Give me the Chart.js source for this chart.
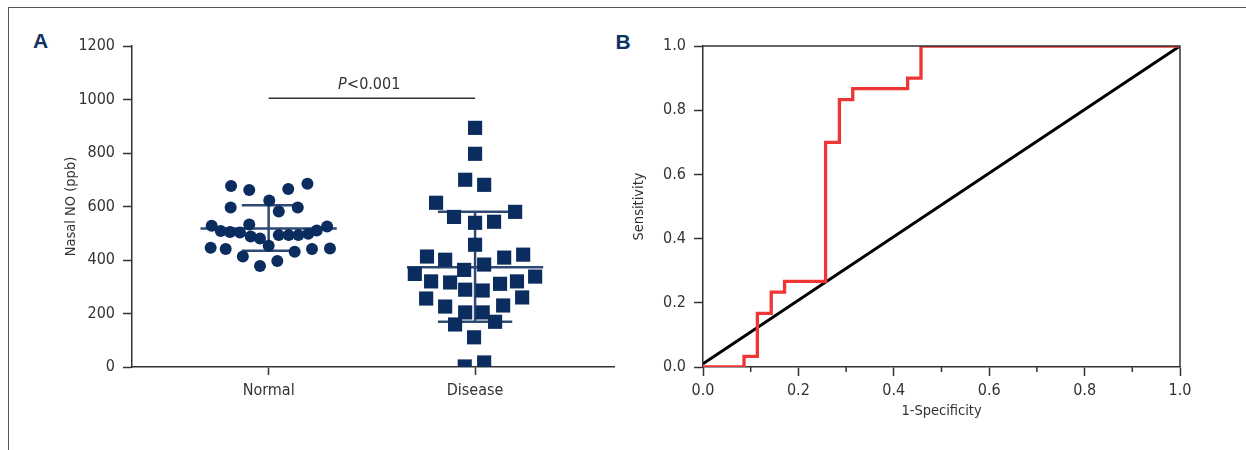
<!DOCTYPE html>
<html><head><meta charset="utf-8">
<script src="https://cdn.jsdelivr.net/npm/chart.js@4.4.1/dist/chart.umd.min.js"></script>
<style>
html,body{margin:0;padding:0;background:#fff;width:1246px;height:450px;overflow:hidden;}
#frame{position:absolute;left:8px;top:7px;width:1238px;height:443px;border-top:1.5px solid #555;border-left:1.5px solid #555;box-sizing:border-box;}
#cA{position:absolute;left:0;top:0;}
#cB{position:absolute;left:620px;top:0;}
.panel{position:absolute;font-family:'Liberation Sans','DejaVu Sans',sans-serif;font-weight:bold;font-size:21px;line-height:21px;color:#0e3364;}
</style></head>
<body>
<div id="frame"></div>
<div class="panel" style="left:33px;top:29.5px">A</div>
<div class="panel" style="left:615.5px;top:30.5px">B</div>
<canvas id="cA" width="625" height="450"></canvas>
<canvas id="cB" width="626" height="450"></canvas>
<script>
// ---------- data: panel A ----------
const categories = ['Normal', 'Disease'];
const categoryPositions = [1, 2];
const normalValues = [677,662,665,685,596,622,581,596,528,508,505,503,533,488,480,453,493,493,493,498,510,525,446,441,413,431,441,443,378,396];
const normalJitter = [-0.182,-0.094,0.095,0.188,-0.184,0.003,0.049,0.141,-0.276,-0.232,-0.187,-0.139,-0.094,-0.087,-0.042,0.0,0.049,0.097,0.144,0.192,0.233,0.283,-0.281,-0.208,-0.125,0.126,0.210,0.297,-0.042,0.042];
const diseaseValues = [894,797,700,681,614,561,539,543,580,457,413,401,363,383,409,420,348,320,316,289,286,311,320,338,256,226,204,204,230,260,159,169,111,2,17];
const diseaseJitter = [0,0,-0.048,0.044,-0.189,-0.102,0,0.092,0.194,0,-0.233,-0.145,-0.053,0.044,0.141,0.233,-0.292,-0.213,-0.121,-0.048,0.037,0.121,0.203,0.291,-0.237,-0.145,-0.048,0.037,0.136,0.228,-0.097,0.097,-0.005,-0.05,0.044];
const groupMeans = [518, 373];
const groupSdUpper = [605, 580];
const groupSdLower = [435, 169];
const yTicksA = [0, 200, 400, 600, 800, 1000, 1200];
const pLabel = ['P', '<0.001'];
const pBarValue = 1005;

// ---------- data: panel B ----------
const rocFpr = [0, 0.086, 0.114, 0.143, 0.171, 0.257, 0.286, 0.314, 0.429, 0.457, 1.0];
const rocTpr = [0, 0.033, 0.167, 0.233, 0.267, 0.700, 0.833, 0.867, 0.900, 1.0, 1.0];
const refFpr = [0, 1];
const refTpr = [0.01, 1];
const rocTicks = [0, 0.2, 0.4, 0.6, 0.8, 1.0];
const rocMinorTicks = [0.1, 0.3, 0.5, 0.7, 0.9];

// ---------- styles ----------
const FONT = "'Liberation Sans Narrow','DejaVu Sans Condensed','Arial Narrow',sans-serif";
const TICK_SIZE = 16;
const TITLE_SIZE = 14.5;
const INK = '#333333';
const NAVY = '#0b2c5f';
const BAR = '#2e4a74';
const meanHalfWidth = 0.33;
const capHalfWidths = [0.13, 0.18];

function zeroPad(s){ s.paddingLeft = s.paddingRight = s.paddingTop = s.paddingBottom = 0; }
function fixWidth(w){ return s => { s.width = w; zeroPad(s); }; }
function fixHeight(h){ return s => { s.height = h; zeroPad(s); }; }
function seg(x1, y1, x2, y2){ return [{x:x1, y:y1}, {x:x2, y:y2}]; }
function lineDs(data, color, width, order){
  return {data, showLine:true, borderColor:color, backgroundColor:color, borderWidth:width, pointRadius:0, pointHoverRadius:0, order};
}

// ---------- chart A ----------
const dsA = [];
dsA.push({data: normalValues.map((v,i)=>({x:categoryPositions[0]+normalJitter[i], y:v})),
  pointStyle:'circle', pointRadius:6, pointHoverRadius:6, backgroundColor:NAVY, borderWidth:0, order:1});
dsA.push({data: diseaseValues.map((v,i)=>({x:categoryPositions[1]+diseaseJitter[i], y:v})),
  pointStyle:'rect', pointRadius:10, pointHoverRadius:10, backgroundColor:NAVY, borderWidth:0, order:1});
categoryPositions.forEach((c,i)=>{
  dsA.push(lineDs(seg(c-meanHalfWidth, groupMeans[i], c+meanHalfWidth, groupMeans[i]), BAR, 2.5, 5));
  dsA.push(lineDs(seg(c-capHalfWidths[i], groupSdUpper[i], c+capHalfWidths[i], groupSdUpper[i]), BAR, 2.5, 5));
  dsA.push(lineDs(seg(c-capHalfWidths[i], groupSdLower[i], c+capHalfWidths[i], groupSdLower[i]), BAR, 2.5, 5));
  dsA.push(lineDs(seg(c, groupSdLower[i], c, groupSdUpper[i]), BAR, 2.5, 5));
});
dsA.push(lineDs(seg(categoryPositions[0], pBarValue, categoryPositions[1], pBarValue), INK, 1.5, 3));

const pTextPlugin = {
  id:'pText',
  afterDatasetsDraw(chart){
    const {ctx, scales:{x, y}} = chart;
    const cx = x.getPixelForValue((categoryPositions[0]+categoryPositions[1])/2) - 3;
    const by = y.getPixelForValue(pBarValue) - 9;
    ctx.save();
    ctx.fillStyle = INK;
    ctx.textBaseline = 'alphabetic';
    ctx.textAlign = 'left';
    const fI = 'italic ' + TICK_SIZE + 'px ' + FONT, fN = TICK_SIZE + 'px ' + FONT;
    ctx.font = fI; const w1 = ctx.measureText(pLabel[0]).width;
    ctx.font = fN; const w2 = ctx.measureText(pLabel[1]).width;
    const sx = cx - (w1 + w2) / 2;
    ctx.font = fI; ctx.fillText(pLabel[0], sx, by);
    ctx.font = fN; ctx.fillText(pLabel[1], sx + w1 + 0.5, by);
    ctx.restore();
  }
};

new Chart(document.getElementById('cA'), {
  type:'scatter',
  data:{datasets:dsA},
  options:{
    responsive:false, animation:false, devicePixelRatio:1,
    layout:{padding:{left:0, right:11, top:46, bottom:0}},
    plugins:{legend:{display:false}, tooltip:{enabled:false}},
    scales:{
      x:{type:'linear', min:0.338, max:2.673,
        afterBuildTicks: s => { s.ticks = categoryPositions.map(v=>({value:v})); },
        afterFit: fixHeight(83),
        grid:{drawOnChartArea:false, drawTicks:true, tickLength:8, tickColor:INK, tickWidth:1.5},
        border:{display:true, color:INK, width:1.5},
        ticks:{font:{family:FONT, size:TICK_SIZE}, color:INK, padding:6, maxRotation:0,
          callback: v => categories[categoryPositions.indexOf(v)]}
      },
      y:{type:'linear', min:0, max:1200,
        afterBuildTicks: s => { s.ticks = yTicksA.map(v=>({value:v})); },
        afterFit: fixWidth(132),
        grid:{drawOnChartArea:false, drawTicks:true, tickLength:9, tickColor:INK, tickWidth:1.5},
        border:{display:true, color:INK, width:1.5},
        ticks:{font:{family:FONT, size:TICK_SIZE}, color:INK, padding:8, callback: v => String(v)},
        title:{display:true, text:'Nasal NO (ppb)', font:{family:FONT, size:TITLE_SIZE}, color:INK, padding:{top:63, bottom:0}}
      }
    }
  },
  plugins:[pTextPlugin]
});

// ---------- chart B ----------
const rocFramePlugin = {
  id:'rocFrame',
  afterDatasetsDraw(chart){
    const {ctx, chartArea:a, scales:{x}} = chart;
    ctx.save();
    ctx.strokeStyle = INK;
    ctx.lineWidth = 1.5;
    ctx.beginPath();
    ctx.moveTo(a.left, a.top); ctx.lineTo(a.right, a.top); ctx.lineTo(a.right, a.bottom);
    rocMinorTicks.forEach(v => {
      const px = x.getPixelForValue(v);
      ctx.moveTo(px, a.bottom); ctx.lineTo(px, a.bottom + 5);
    });
    ctx.stroke();
    ctx.restore();
  }
};

new Chart(document.getElementById('cB'), {
  type:'scatter',
  data:{datasets:[
    {data: rocFpr.map((v,i)=>({x:v, y:rocTpr[i]})), showLine:true, stepped:'before',
      borderColor:'#f03535', backgroundColor:'#f03535', borderWidth:3.3, pointRadius:0, pointHoverRadius:0, order:1},
    {data: refFpr.map((v,i)=>({x:v, y:refTpr[i]})), showLine:true,
      borderColor:'#000000', backgroundColor:'#000000', borderWidth:3, pointRadius:0, pointHoverRadius:0, order:2}
  ]},
  options:{
    responsive:false, animation:false, devicePixelRatio:1,
    layout:{padding:{left:0, right:66, top:46, bottom:0}},
    plugins:{legend:{display:false}, tooltip:{enabled:false}},
    scales:{
      x:{type:'linear', min:0, max:1,
        afterBuildTicks: s => { s.ticks = rocTicks.map(v=>({value:v})); },
        afterFit: fixHeight(83),
        grid:{drawOnChartArea:false, drawTicks:true, tickLength:9, tickColor:INK, tickWidth:1.5},
        border:{display:true, color:INK, width:1.5},
        ticks:{font:{family:FONT, size:TICK_SIZE}, color:INK, padding:5, maxRotation:0,
          callback: v => Number(v).toFixed(1)},
        title:{display:true, text:'1-Specificity', font:{family:FONT, size:TITLE_SIZE}, color:INK, padding:{top:0, bottom:30}}
      },
      y:{type:'linear', min:0, max:1,
        afterBuildTicks: s => { s.ticks = rocTicks.map(v=>({value:v})); },
        afterFit: fixWidth(83),
        grid:{drawOnChartArea:false, drawTicks:true, tickLength:9, tickColor:INK, tickWidth:1.5},
        border:{display:true, color:INK, width:1.5},
        ticks:{font:{family:FONT, size:TICK_SIZE}, color:INK, padding:8,
          callback: v => Number(v).toFixed(1)},
        title:{display:true, text:'Sensitivity', font:{family:FONT, size:TITLE_SIZE}, color:INK, padding:{top:11, bottom:0}}
      }
    }
  },
  plugins:[rocFramePlugin]
});
</script>
</body></html>
